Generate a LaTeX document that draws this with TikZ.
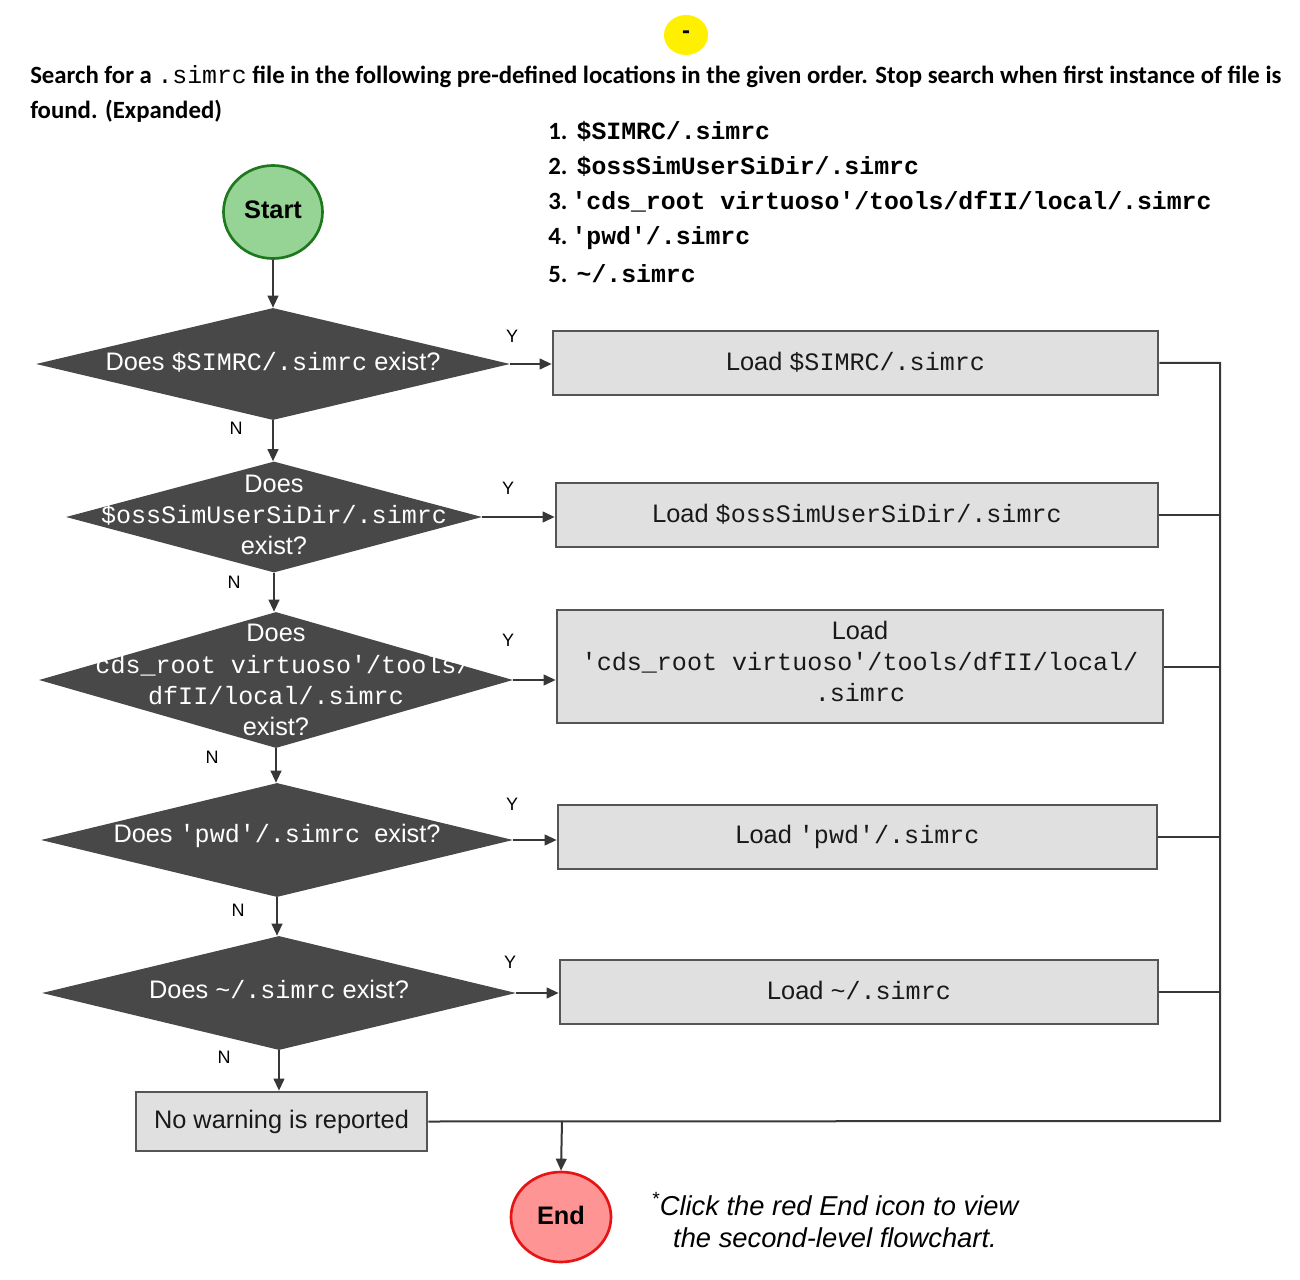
\documentclass[tikz,border=0pt]{standalone}
\usepackage{fontspec}
\setmainfont{Liberation Sans}
\setmonofont{Liberation Mono}
\newfontfamily\hdfont{Carlito}
\usetikzlibrary{shapes.geometric,arrows.meta}
\definecolor{diafill}{RGB}{72,72,72}
\definecolor{boxfill}{RGB}{224,224,224}
\definecolor{boxline}{RGB}{85,85,85}
\definecolor{linec}{RGB}{55,55,55}
\definecolor{startfill}{RGB}{150,212,150}
\definecolor{startline}{RGB}{30,120,30}
\definecolor{endfill}{RGB}{255,148,148}
\definecolor{endline}{RGB}{230,20,20}
\definecolor{yel}{RGB}{255,240,0}
\newcommand\mt[1]{{\ttfamily\fontsize{18.8pt}{23pt}\selectfont #1}}
\begin{document}
\begin{tikzpicture}[x=0.75pt,y=-0.75pt,
  dia/.style={diamond,fill=diafill,draw=none,inner sep=0pt},
  diatext/.style={text=white,align=center,font=\fontsize{19pt}{23.3pt}\selectfont},
  box/.style={rectangle,draw=boxline,fill=boxfill,line width=2pt,inner sep=0pt,align=center,
    text=black!90,font=\fontsize{19pt}{23.3pt}\selectfont},
  boxtext/.style={align=center,text=black!90,font=\fontsize{19pt}{23.3pt}\selectfont},
  yn/.style={font=\fontsize{13.5pt}{16pt}\selectfont,text=black},
  conn/.style={draw=linec,line width=1.5pt},
  arr/.style={conn,-{Triangle[length=9pt,width=8pt]}},
  hd/.style={anchor=west,inner sep=0pt,font=\hdfont\bfseries\fontsize{18.6pt}{22pt}\selectfont},
  lst/.style={anchor=west,inner sep=0pt,font=\fontsize{18.6pt}{22pt}\selectfont}
]
\useasboundingbox (0,0) rectangle (1300,1280);

% header
\node[ellipse,fill=yel,minimum width=44*0.75pt,minimum height=40*0.75pt,inner sep=0pt,
  font=\bfseries\fontsize{18pt}{20pt}\selectfont] (dash) at (686,35) {-};
\node[hd] (h1) at (30,77) {Search for a {\mdseries\ttfamily\fontsize{18.6pt}{22pt}\selectfont .simrc} file in the following pre-defined locations in the given order. Stop search when first instance of file is};
\node[hd] (h2) at (30,111) {found. (Expanded)};

\node[lst] (l1) at (548,131) {{\hdfont\bfseries 1.} \ttfamily\bfseries \$SIMRC/.simrc};
\node[lst] (l2) at (548,166) {{\hdfont\bfseries 2.} \ttfamily\bfseries \$ossSimUserSiDir/.simrc};
\node[lst] (l3) at (548,202) {{\hdfont\bfseries 3.}\,\ttfamily\bfseries 'cds\_root virtuoso'/tools/dfII/local/.simrc};
\node[lst] (l4) at (548,238) {{\hdfont\bfseries 4.}\,\ttfamily\bfseries 'pwd'/.simrc};
\node[lst] (l5) at (548,274) {{\hdfont\bfseries 5.} \ttfamily\bfseries \textasciitilde/.simrc};

% start
\node[ellipse,fill=startfill,draw=startline,line width=2pt,minimum width=99*0.75pt,minimum height=93*0.75pt,
  font=\bfseries\fontsize{19pt}{22pt}\selectfont] (start) at (273,212) {\raisebox{3pt}{Start}};

% diamonds
\node[dia,minimum width=474*0.75pt,minimum height=112*0.75pt] (d1) at (273,364) {};
\node[diatext] (d1t) at ([yshift=1.5pt]d1.center) {Does \mt{\$SIMRC/.simrc} exist?};
\node[dia,minimum width=416*0.75pt,minimum height=111*0.75pt] (d2) at (274,517) {};
\node[diatext] (d2t) at ([yshift=1.5pt]d2.center) {Does\\\mt{\$ossSimUserSiDir/.simrc}\\exist?};
\node[dia,minimum width=474*0.75pt,minimum height=136*0.75pt] (d3) at (276,680) {};
\node[diatext] (d3t) at (d3.center) {Does\\\mt{'cds\_root virtuoso'/tools/}\\\mt{dfII/local/.simrc}\\exist?};
\node[dia,minimum width=472*0.75pt,minimum height=114*0.75pt] (d4) at (277,840) {};
\node[diatext] (d4t) at ([yshift=3pt]d4.center) {Does \mt{'pwd'/.simrc}\ \ exist?};
\node[dia,minimum width=474*0.75pt,minimum height=114*0.75pt] (d5) at (279,993) {};
\node[diatext] (d5t) at ([yshift=3pt]d5.center) {Does \mt{\textasciitilde/.simrc} exist?};

% boxes
\node[box,minimum width=605*0.75pt,minimum height=64*0.75pt] (b1) at (855.5,363) {\raisebox{2pt}{Load \mt{\$SIMRC/.simrc}}};
\node[box,minimum width=602*0.75pt,minimum height=64*0.75pt] (b2) at (857,515) {\raisebox{2pt}{Load \mt{\$ossSimUserSiDir/.simrc}}};
\node[box,minimum width=606*0.75pt,minimum height=113*0.75pt] (b3) at (860,666.5) {};
\node[boxtext] (b3t) at ([yshift=3.5pt]b3.center) {Load\\\mt{'cds\_root virtuoso'/tools/dfII/local/}\\\mt{.simrc}};
\node[box,minimum width=599*0.75pt,minimum height=64*0.75pt] (b4) at (857.5,837) {\raisebox{2pt}{Load \mt{'pwd'/.simrc}}};
\node[box,minimum width=598*0.75pt,minimum height=64*0.75pt] (b5) at (859,992) {\raisebox{2pt}{Load \mt{\textasciitilde/.simrc}}};
\node[box,minimum width=291*0.75pt,minimum height=59*0.75pt] (nw) at (281.5,1121.5) {\raisebox{3pt}{No warning is reported}};

% end
\node[ellipse,fill=endfill,draw=endline,line width=2pt,minimum width=100*0.75pt,minimum height=90*0.75pt,
  font=\bfseries\fontsize{19pt}{22pt}\selectfont] (end) at (561,1217) {\raisebox{2pt}{End}};
\node[align=center,font=\itshape\fontsize{20.5pt}{23.5pt}\selectfont] (note) at (835,1220)
  {\textsuperscript{*}Click the red End icon to view\\the second-level flowchart.};

% bus coordinates
\coordinate (bt) at (1220,363);
\coordinate (bb) at (1220,1121);
\coordinate (jn) at (562,1121);

% connectors
\draw[arr] (start) -- (d1.north);
\draw[arr] (d1.south) -- (d1.south |- d2.north);
\draw[arr] (d2.south) -- (d2.south |- d3.north);
\draw[arr] (d3.south) -- (d3.south |- d4.north);
\draw[arr] (d4.south) -- (d4.south |- d5.north);
\draw[arr] (d5.south) -- (d5.south |- nw.north);
\draw[arr] (d1.east) -- (d1.east -| b1.west);
\draw[arr] (d2.east) -- (d2.east -| b2.west);
\draw[arr] (d3.east) -- (d3.east -| b3.west);
\draw[arr] (d4.east) -- (d4.east -| b4.west);
\draw[arr] (d5.east) -- (d5.east -| b5.west);
\draw[conn] (b1.east) -- (bt) -- (bb) -- (nw.east);
\draw[conn] (b2.east) -- (b2.east -| bt);
\draw[conn] (b3.east) -- (b3.east -| bt);
\draw[conn] (b4.east) -- (b4.east -| bt);
\draw[conn] (b5.east) -- (b5.east -| bt);
\draw[arr] (jn) -- (end.north);

% Y / N labels
\node[yn] (y1) at (512,336) {Y};
\node[yn] (n1) at (236,428) {N};
\node[yn] (y2) at (508,488) {Y};
\node[yn] (n2) at (234,582) {N};
\node[yn] (y3) at (508,640) {Y};
\node[yn] (n3) at (212,757) {N};
\node[yn] (y4) at (512,804) {Y};
\node[yn] (n4) at (238,910) {N};
\node[yn] (y5) at (510,962) {Y};
\node[yn] (n5) at (224,1057) {N};
\end{tikzpicture}
\end{document}
